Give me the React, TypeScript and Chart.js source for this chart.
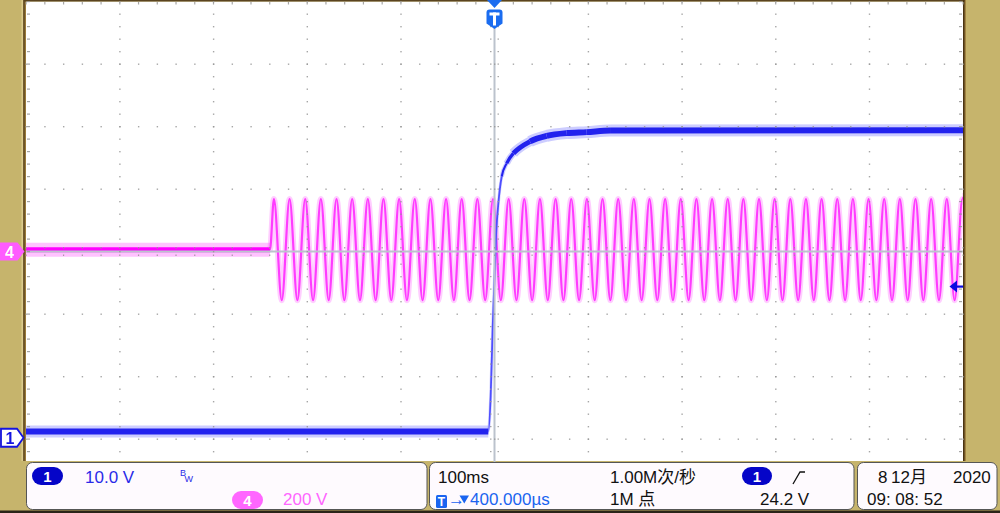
import React, { useEffect, useRef } from 'react';
import { Chart, registerables } from 'chart.js';

Chart.register(...registerables);

// ---- Data (time in ms, trigger at 0) ----
const ch1TimeMs = [-500, -6.6, -4.1, -1.9, 1.6, 4.1, 7.7, 13.0, 20.1, 37.9, 55.7, 77.1, 98.4, 123.3, 500];
const ch1Volts = [1.0, 1.0, 6.6, 17.8, 32.2, 37.5, 41.8, 43.9, 45.5, 47.4, 48.3, 48.75, 48.9, 49.15, 49.2];

const ch4TimeMs = [
  -500, -239.6,
  -235.4, -227.05, -218.7, -210.35, -202.0, -193.65, -185.3, -176.95, -168.6, -160.25,
  -151.9, -143.55, -135.2, -126.85, -118.5, -110.15, -101.8, -93.45, -85.1, -76.75,
  -68.4, -60.05, -51.7, -43.35, -35.0, -26.65, -18.3, -9.95, -1.6, 6.75,
  15.1, 23.45, 31.8, 40.15, 48.5, 56.85, 65.2, 73.55, 81.9, 90.25,
  98.6, 106.95, 115.3, 123.65, 132.0, 140.35, 148.7, 157.05, 165.4, 173.75,
  182.1, 190.45, 198.8, 207.15, 215.5, 223.85, 232.2, 240.55, 248.9, 257.25,
  265.6, 273.95, 282.3, 290.65, 299.0, 307.35, 315.7, 324.05, 332.4, 340.75,
  349.1, 357.45, 365.8, 374.15, 382.5, 390.85, 399.2, 407.55, 415.9, 424.25,
  432.6, 440.95, 449.3, 457.65, 466.0, 474.35, 482.7, 491.05, 499.4,
  500,
];
const ch4Volts = [
  6, 6,
  168, -156, 168, -156, 168, -156, 168, -156, 168, -156,
  168, -156, 168, -156, 168, -156, 168, -156, 168, -156,
  168, -156, 168, -156, 168, -156, 168, -156, 168, -156,
  168, -156, 168, -156, 168, -156, 168, -156, 168, -156,
  168, -156, 168, -156, 168, -156, 168, -156, 168, -156,
  168, -156, 168, -156, 168, -156, 168, -156, 168, -156,
  168, -156, 168, -156, 168, -156, 168, -156, 168, -156,
  168, -156, 168, -156, 168, -156, 168, -156, 168, -156,
  168, -156, 168, -156, 168, -156, 168, -156, 168,
  167,
];

const ch1TriggerLevelV = 24.2;
const timeRangeMs = [-500, 500];
const ch1RangeV = [-10.2, 69.8];
const ch4RangeV = [-800, 800];

const KHAKI = '#c6b46c';
const FONT = '"Liberation Sans", "Noto Sans CJK SC", sans-serif';

function bandWidth(h: number, min: number) {
  return (ctx: any) => {
    const dx = Math.abs(ctx.p1.x - ctx.p0.x);
    const dy = Math.abs(ctx.p1.y - ctx.p0.y);
    const w = dx < 1e-6 ? 0 : h / Math.sqrt(1 + (dy / dx) * (dy / dx));
    return Math.max(min, w);
  };
}
function steepColor(flat: string, steep: string, ratio: number) {
  return (ctx: any) => {
    const dx = Math.abs(ctx.p1.x - ctx.p0.x);
    const dy = Math.abs(ctx.p1.y - ctx.p0.y);
    return dy > dx * ratio ? steep : flat;
  };
}

const bgPlugin = {
  id: 'scopeBg',
  beforeDraw(chart: any) {
    const { ctx, chartArea: a, width, height } = chart;
    ctx.save();
    ctx.fillStyle = KHAKI;
    ctx.fillRect(0, 0, width, height);
    ctx.fillStyle = '#ffffff';
    ctx.fillRect(a.left, a.top, a.right - a.left, a.bottom - a.top);
    ctx.fillStyle = '#dccb8e';
    ctx.fillRect(21.5, 0, 1.8, height);
    ctx.fillStyle = '#4b3412';
    ctx.fillRect(23.3, 0, 1.5, height);
    ctx.fillStyle = '#9a7a3a';
    ctx.fillRect(24.8, 0, 1.2, height);
    ctx.fillStyle = '#5a4420';
    ctx.fillRect(a.left - 2, 0, a.right - a.left + 4, a.top);
    ctx.fillStyle = '#4b3412';
    ctx.fillRect(a.right, 0, 1.8, height);
    ctx.fillStyle = '#9a7a3a';
    ctx.fillRect(a.right + 1.8, 0, 1, height);
    ctx.restore();
  },
};

const graticulePlugin = {
  id: 'graticule',
  afterDatasetsDraw(chart: any) {
    const { ctx, chartArea: a, scales } = chart;
    const W = a.right - a.left;
    const H = a.bottom - a.top;
    const mx = W / 10, my = H / 8, nx = mx / 5, ny = my / 5;
    const cx = scales.x.getPixelForValue(0);
    const cy = a.top + 4 * my;
    ctx.save();
    ctx.strokeStyle = '#bcc3cd';
    ctx.lineWidth = 2;
    ctx.beginPath();
    ctx.moveTo(cx, 27);
    ctx.lineTo(cx, a.bottom);
    ctx.moveTo(a.left, cy);
    ctx.lineTo(a.right, cy);
    ctx.stroke();
    ctx.fillStyle = 'rgba(150,150,150,0.85)';
    for (let i = 1; i < 10; i++) {
      if (i === 5) continue;
      const x = a.left + i * mx;
      for (let j = 0; j <= 40; j++) ctx.fillRect(x - 0.5, a.top + j * ny - 0.5, 1.4, 1.4);
    }
    for (let k = 1; k < 8; k++) {
      if (k === 4) continue;
      const y = a.top + k * my;
      for (let j = 0; j <= 50; j++) ctx.fillRect(a.left + j * nx - 0.5, y - 0.5, 1.4, 1.4);
    }
    for (let j = 0; j <= 40; j++) {
      const y = a.top + j * ny;
      ctx.fillRect(cx - 4.5, y - 0.5, 1.5, 1.2);
      ctx.fillRect(cx + 3, y - 0.5, 1.5, 1.2);
    }
    for (let j = 0; j <= 50; j++) {
      const x = a.left + j * nx;
      ctx.fillRect(x - 0.5, cy - 4.5, 1.2, 1.5);
      ctx.fillRect(x - 0.5, cy + 3, 1.2, 1.5);
    }
    for (let j = 0; j <= 40; j++) {
      const y = a.top + j * ny;
      ctx.fillRect(a.left + 1, y - 0.5, 3, 1.2);
      ctx.fillRect(a.right - 4, y - 0.5, 3, 1.2);
    }
    for (let j = 0; j <= 50; j++) {
      const x = a.left + j * nx;
      ctx.fillRect(x - 0.5, a.top + 0.5, 1.2, 2.5);
    }
    ctx.restore();
  },
};

const markerPlugin = {
  id: 'scopeMarkers',
  afterDraw(chart: any) {
    const { ctx, scales, chartArea: a } = chart;
    const x0 = scales.x.getPixelForValue(0);
    ctx.save();
    ctx.fillStyle = '#1a6cf0';
    ctx.beginPath();
    ctx.moveTo(x0 - 7.5, 0);
    ctx.lineTo(x0 + 7.5, 0);
    ctx.lineTo(x0, 8);
    ctx.closePath();
    ctx.fill();
    const l = x0 - 8, r = x0 + 8, t = 9.5, b = 23.5, tip = 29;
    ctx.beginPath();
    ctx.moveTo(l + 3, t);
    ctx.lineTo(r - 3, t);
    ctx.quadraticCurveTo(r, t, r, t + 3);
    ctx.lineTo(r, b);
    ctx.lineTo(x0, tip);
    ctx.lineTo(l, b);
    ctx.lineTo(l, t + 3);
    ctx.quadraticCurveTo(l, t, l + 3, t);
    ctx.closePath();
    ctx.fill();
    ctx.fillStyle = '#ffffff';
    ctx.fillRect(x0 - 5, 12.5, 10, 3);
    ctx.fillRect(x0 - 1.5, 12.5, 3, 13);

    ctx.textAlign = 'center';
    ctx.textBaseline = 'alphabetic';
    ctx.font = `bold 16px ${FONT}`;

    const y4 = scales.y4.getPixelForValue(0);
    ctx.fillStyle = '#ff5cff';
    ctx.beginPath();
    ctx.moveTo(0, y4 - 9);
    ctx.lineTo(17.5, y4 - 9);
    ctx.lineTo(24.5, y4);
    ctx.lineTo(17.5, y4 + 9);
    ctx.lineTo(0, y4 + 9);
    ctx.closePath();
    ctx.fill();
    ctx.fillStyle = '#ffffff';
    ctx.fillText('4', 9.5, y4 + 6);

    const y1 = scales.y1.getPixelForValue(0);
    ctx.fillStyle = '#ffffff';
    ctx.strokeStyle = '#1414e0';
    ctx.lineWidth = 1.8;
    ctx.beginPath();
    ctx.moveTo(1, y1 - 9);
    ctx.lineTo(17, y1 - 9);
    ctx.lineTo(23.5, y1);
    ctx.lineTo(17, y1 + 9);
    ctx.lineTo(1, y1 + 9);
    ctx.closePath();
    ctx.fill();
    ctx.stroke();
    ctx.fillStyle = '#1414e0';
    ctx.fillText('1', 10, y1 + 6);

    const yt = scales.y1.getPixelForValue(ch1TriggerLevelV);
    ctx.fillStyle = '#0a0ae0';
    ctx.beginPath();
    ctx.moveTo(a.right - 13.5, yt);
    ctx.lineTo(a.right - 6, yt - 6);
    ctx.lineTo(a.right - 6, yt + 6);
    ctx.closePath();
    ctx.fill();
    ctx.fillRect(a.right - 7, yt - 1, 7, 2.2);
    ctx.restore();
  },
};

function ScopeChart() {
  const ref = useRef<HTMLCanvasElement | null>(null);
  useEffect(() => {
    if (!ref.current) return;
    const ch1Pts = ch1TimeMs.map((t, i) => ({ x: t, y: ch1Volts[i] }));
    const ch4Pts = ch4TimeMs.map((t, i) => ({ x: t, y: ch4Volts[i] }));
    const chart = new Chart(ref.current, {
      type: 'line',
      data: {
        datasets: [
          {
            label: 'CH1',
            data: ch1Pts,
            yAxisID: 'y1',
            order: 0,
            borderColor: '#2222ee',
            borderWidth: 6,
            borderCapStyle: 'butt',
            cubicInterpolationMode: 'monotone',
            pointRadius: 0,
            segment: {
              borderWidth: bandWidth(6, 1.8),
              borderColor: steepColor('#2222ee', '#4e4eff', 3),
            },
          } as any,
          {
            label: 'CH1 noise',
            data: ch1Pts,
            yAxisID: 'y1',
            order: 1,
            borderColor: 'rgba(90,90,255,0.3)',
            borderWidth: 12,
            cubicInterpolationMode: 'monotone',
            pointRadius: 0,
            segment: {
              borderWidth: bandWidth(12, 3),
              borderColor: steepColor('rgba(90,90,255,0.3)', 'rgba(120,120,255,0.3)', 3),
            },
          } as any,
          {
            label: 'CH4',
            data: ch4Pts,
            yAxisID: 'y4',
            order: 2,
            borderColor: '#ff33ff',
            borderWidth: 2.2,
            cubicInterpolationMode: 'monotone',
            pointRadius: 0,
            segment: {
              borderWidth: bandWidth(5, 2.2),
              borderColor: steepColor('#ff00ff', '#ff3cff', 1),
            },
          } as any,
          {
            label: 'CH4 noise',
            data: ch4Pts,
            yAxisID: 'y4',
            order: 3,
            borderColor: 'rgba(255,60,255,0.3)',
            borderWidth: 6,
            cubicInterpolationMode: 'monotone',
            pointRadius: 0,
            segment: {
              borderWidth: bandWidth(14, 6),
              borderColor: steepColor('rgba(255,40,255,0.28)', 'rgba(255,90,255,0.3)', 1),
            },
          } as any,
        ],
      },
      options: {
        animation: false,
        responsive: false,
        devicePixelRatio: 1,
        events: [],
        layout: { padding: { left: 26, right: 37, top: 1.5, bottom: 11.5 } },
        plugins: { legend: { display: false }, tooltip: { enabled: false } },
        scales: {
          x: { type: 'linear', min: timeRangeMs[0], max: timeRangeMs[1], display: false },
          y1: { type: 'linear', min: ch1RangeV[0], max: ch1RangeV[1], display: false },
          y4: { type: 'linear', min: ch4RangeV[0], max: ch4RangeV[1], display: false },
        },
      } as any,
      plugins: [bgPlugin, graticulePlugin, markerPlugin],
    });
    return () => chart.destroy();
  }, []);
  return <canvas ref={ref} width={1000} height={513} style={{ position: 'absolute', left: 0, top: 0, width: 1000, height: 513 }} />;
}

function InfoBar() {
  const blue = '#2a2ae8';
  const pink = '#ff66ff';
  const tb = '#1a64f0';
  return (
    <svg width={1000} height={513} style={{ position: 'absolute', left: 0, top: 0, pointerEvents: 'none' }}
      fontFamily={FONT} fontSize={17}>
      <rect x={0} y={461} width={1000} height={52} fill={KHAKI} />
      <rect x={0} y={510.5} width={1000} height={2.5} fill="#2a2418" />
      <line x1={494.5} y1={461} x2={494.5} y2={462.5} stroke="#bcc3cd" strokeWidth={2} />
      <rect x={26.5} y={462.5} width={400.5} height={47} rx={6} fill="#fefafe" stroke="#555" />
      <rect x={32} y={467} width={31} height={18} rx={9} fill="#0505c8" />
      <text x={47.5} y={481.5} fill="#fff" fontWeight="bold" fontSize={15} textAnchor="middle">1</text>
      <text x={85} y={482.5} fill={blue}>10.0 V</text>
      <text x={180} y={476} fill={blue} fontSize={9}>B</text>
      <text x={184.5} y={482} fill={blue} fontSize={9}>W</text>
      <rect x={232} y={491} width={31} height={18} rx={9} fill={pink} />
      <text x={247.5} y={505.5} fill="#fff" fontWeight="bold" fontSize={15} textAnchor="middle">4</text>
      <text x={283} y={504.5} fill={pink}>200 V</text>
      <rect x={429.5} y={462.5} width={424.5} height={47} rx={6} fill="#fefafe" stroke="#555" />
      <text x={438} y={482.5} fill="#111">100ms</text>
      <text x={610} y={482.5} fill="#111">1.00M次/秒</text>
      <rect x={742} y={467} width={30} height={18} rx={9} fill="#0505c8" />
      <text x={757} y={481.5} fill="#fff" fontWeight="bold" fontSize={15} textAnchor="middle">1</text>
      <path d="M793 484 L800 472 L805 472" stroke="#111" strokeWidth={1.3} fill="none" />
      <rect x={436} y={495} width={11} height={13} rx={1.5} fill={tb} />
      <text x={441.5} y={506} fill="#fff" fontWeight="bold" fontSize={12} textAnchor="middle">T</text>
      <text x={448} y={504.5} fill={tb}>→</text>
      <path d="M459.5 495.5 L469 495.5 L464.25 503.5 Z" fill={tb} />
      <text x={470} y={504.5} fill={tb}>400.000µs</text>
      <text x={610} y={504.5} fill="#111">1M 点</text>
      <text x={760} y={504.5} fill="#111">24.2 V</text>
      <rect x={857.5} y={462.5} width={139.5} height={47} rx={6} fill="#fefafe" stroke="#555" />
      <text x={878} y={482.5} fill="#111">8</text>
      <text x={891} y={482.5} fill="#111">12月</text>
      <text x={953} y={482.5} fill="#111">2020</text>
      <text x={867} y={504.5} fill="#111">09: 08: 52</text>
    </svg>
  );
}

export default function App() {
  return (
    <div style={{ position: 'fixed', left: 0, top: 0, width: 1000, height: 513, overflow: 'hidden', background: KHAKI }}>
      <ScopeChart />
      <InfoBar />
    </div>
  );
}
